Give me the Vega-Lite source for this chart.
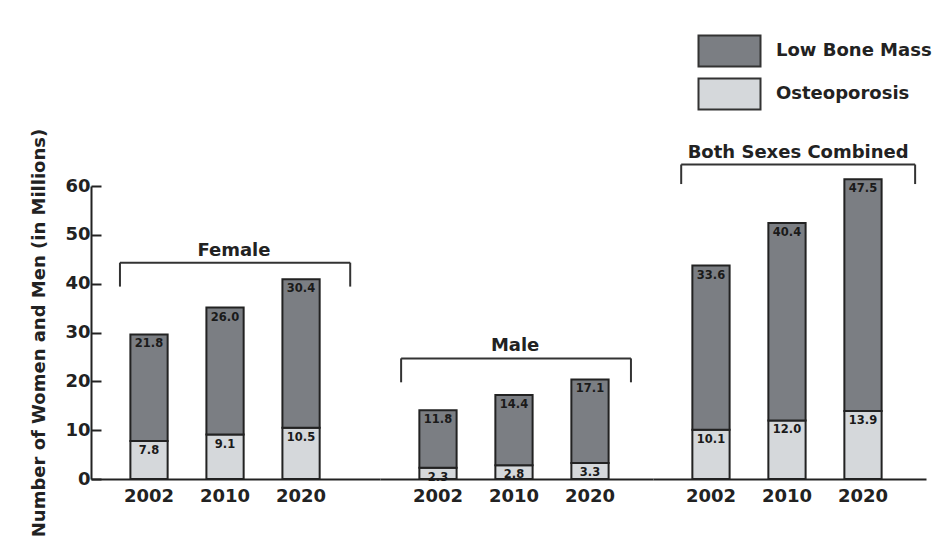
{
  "$schema": "https://vega.github.io/schema/vega-lite/v6.json",
  "background": "white",
  "padding": {"left": 30, "top": 34, "right": 0, "bottom": 0},
  "spacing": 0,
  "bounds": "flush",
  "datasets": {
    "bars": [
      {"group": "Female", "year": "2002", "type": "Osteoporosis", "value": 7.8},
      {"group": "Female", "year": "2002", "type": "Low Bone Mass", "value": 21.8},
      {"group": "Female", "year": "2010", "type": "Osteoporosis", "value": 9.1},
      {"group": "Female", "year": "2010", "type": "Low Bone Mass", "value": 26.0},
      {"group": "Female", "year": "2020", "type": "Osteoporosis", "value": 10.5},
      {"group": "Female", "year": "2020", "type": "Low Bone Mass", "value": 30.4},
      {"group": "Male", "year": "2002", "type": "Osteoporosis", "value": 2.3},
      {"group": "Male", "year": "2002", "type": "Low Bone Mass", "value": 11.8},
      {"group": "Male", "year": "2010", "type": "Osteoporosis", "value": 2.8},
      {"group": "Male", "year": "2010", "type": "Low Bone Mass", "value": 14.4},
      {"group": "Male", "year": "2020", "type": "Osteoporosis", "value": 3.3},
      {"group": "Male", "year": "2020", "type": "Low Bone Mass", "value": 17.1},
      {"group": "Both Sexes Combined", "year": "2002", "type": "Osteoporosis", "value": 10.1},
      {"group": "Both Sexes Combined", "year": "2002", "type": "Low Bone Mass", "value": 33.6},
      {"group": "Both Sexes Combined", "year": "2010", "type": "Osteoporosis", "value": 12.0},
      {"group": "Both Sexes Combined", "year": "2010", "type": "Low Bone Mass", "value": 40.4},
      {"group": "Both Sexes Combined", "year": "2020", "type": "Osteoporosis", "value": 13.9},
      {"group": "Both Sexes Combined", "year": "2020", "type": "Low Bone Mass", "value": 47.5}
    ],
    "brackets": [
      {"group": "Female", "label": "Female", "level": 44.3, "foot": 39.4},
      {"group": "Male", "label": "Male", "level": 24.7, "foot": 19.8},
      {"group": "Both Sexes Combined", "label": "Both Sexes Combined", "level": 64.4, "foot": 60.4}
    ]
  },
  "config": {
    "font": "DejaVu Sans",
    "view": {"stroke": null},
    "axis": {
      "labelFont": "DejaVu Sans",
      "labelFontWeight": "bold",
      "labelFontSize": 18,
      "labelColor": "#222222",
      "titleFont": "DejaVu Sans",
      "titleFontWeight": "bold",
      "titleFontSize": 18,
      "titleColor": "#222222",
      "domainColor": "#222222",
      "domainWidth": 2,
      "tickColor": "#222222",
      "tickWidth": 2,
      "grid": false
    },
    "legend": {
      "orient": "none",
      "legendX": 622,
      "legendY": -151.5,
      "symbolType": "M-2,-1H2V1H-2Z",
      "symbolSize": 961,
      "symbolStrokeColor": "#333333",
      "symbolStrokeWidth": 2,
      "symbolOpacity": 1,
      "labelFont": "DejaVu Sans",
      "labelFontWeight": "bold",
      "labelFontSize": 18,
      "labelColor": "#222222",
      "labelOffset": 30,
      "rowPadding": 4,
      "labelLimit": 400
    }
  },
  "resolve": {"scale": {"y": "shared", "color": "shared", "x": "independent"}, "legend": {"color": "shared"}},
  "hconcat": [
    {
      "width": 289,
      "height": 293,
      "layer": [
        {
          "data": {"name": "bars"},
          "transform": [{"filter": "datum.group === 'Female'"}],
          "mark": {"type": "bar", "stroke": "#222222", "strokeWidth": 2},
          "encoding": {
            "x": {"field": "year", "type": "ordinal", "title": null,
                  "scale": {"paddingInner": 0.51, "paddingOuter": 0.656, "align": 0.395},
                  "axis": {"labelAngle": 0, "ticks": false, "labelPadding": 8}},
            "y": {"field": "value", "type": "quantitative", "stack": "zero",
                  "scale": {"domain": [0, 60], "nice": false},
                  "axis": {"title": "Number of Women and Men (in Millions)", "values": [0, 10, 20, 30, 40, 50, 60],
                           "tickSize": -10, "labelPadding": 11, "titlePadding": 16}},
            "color": {"field": "type", "type": "nominal", "title": null,
                      "scale": {"domain": ["Low Bone Mass", "Osteoporosis"], "range": ["#7b7e83", "#d5d8db"]}},
            "order": {"field": "type", "sort": "descending"}
          }
        },
        {
          "data": {"name": "bars"},
          "transform": [{"filter": "datum.group === 'Female'"}],
          "mark": {"type": "text", "baseline": "middle", "dy": 10, "fontSize": 11.5, "fontWeight": "bold", "color": "#1a1a1a"},
          "encoding": {
            "x": {"field": "year", "type": "ordinal"},
            "y": {"field": "value", "type": "quantitative", "stack": "zero"},
            "order": {"field": "type", "sort": "descending"},
            "detail": {"field": "type"},
            "text": {"field": "value", "type": "quantitative", "format": ".1f"}
          }
        },
        {
          "data": {"name": "brackets"},
          "transform": [{"filter": "datum.group === 'Female'"}],
          "mark": {"type": "rule", "strokeWidth": 2, "color": "#333333"},
          "encoding": {
            "x": {"datum": "2002", "bandPosition": -0.28},
            "x2": {"datum": "2020", "bandPosition": 1.82},
            "y": {"field": "level", "type": "quantitative"}
          }
        },
        {
          "data": {"name": "brackets"},
          "transform": [{"filter": "datum.group === 'Female'"}],
          "mark": {"type": "rule", "strokeWidth": 2, "color": "#333333"},
          "encoding": {
            "x": {"datum": "2002", "bandPosition": -0.28},
            "y": {"field": "level", "type": "quantitative"},
            "y2": {"field": "foot"}
          }
        },
        {
          "data": {"name": "brackets"},
          "transform": [{"filter": "datum.group === 'Female'"}],
          "mark": {"type": "rule", "strokeWidth": 2, "color": "#333333"},
          "encoding": {
            "x": {"datum": "2020", "bandPosition": 1.82},
            "y": {"field": "level", "type": "quantitative"},
            "y2": {"field": "foot"}
          }
        },
        {
          "data": {"name": "brackets"},
          "transform": [{"filter": "datum.group === 'Female'"}],
          "mark": {"type": "text", "baseline": "alphabetic", "dy": -7, "fontSize": 18, "fontWeight": "bold", "color": "#222222"},
          "encoding": {
            "x": {"datum": "2010", "bandPosition": 0.74},
            "y": {"field": "level", "type": "quantitative"},
            "text": {"field": "label"}
          }
        }
      ]
    },
    {
      "width": 273,
      "height": 293,
      "layer": [
        {
          "data": {"name": "bars"},
          "transform": [{"filter": "datum.group === 'Male'"}],
          "mark": {"type": "bar", "stroke": "#222222", "strokeWidth": 2},
          "encoding": {
            "x": {"field": "year", "type": "ordinal", "title": null,
                  "scale": {"paddingInner": 0.51, "paddingOuter": 0.551, "align": 0.47},
                  "axis": {"labelAngle": 0, "ticks": false, "labelPadding": 8}},
            "y": {"field": "value", "type": "quantitative", "stack": "zero", "axis": null},
            "color": {"field": "type", "type": "nominal", "title": null},
            "order": {"field": "type", "sort": "descending"}
          }
        },
        {
          "data": {"name": "bars"},
          "transform": [{"filter": "datum.group === 'Male'"}],
          "mark": {"type": "text", "baseline": "middle", "dy": 10, "fontSize": 11.5, "fontWeight": "bold", "color": "#1a1a1a"},
          "encoding": {
            "x": {"field": "year", "type": "ordinal"},
            "y": {"field": "value", "type": "quantitative", "stack": "zero"},
            "order": {"field": "type", "sort": "descending"},
            "detail": {"field": "type"},
            "text": {"field": "value", "type": "quantitative", "format": ".1f"}
          }
        },
        {
          "data": {"name": "brackets"},
          "transform": [{"filter": "datum.group === 'Male'"}],
          "mark": {"type": "rule", "strokeWidth": 2, "color": "#333333"},
          "encoding": {
            "x": {"datum": "2002", "bandPosition": -0.49},
            "x2": {"datum": "2020", "bandPosition": 1.6},
            "y": {"field": "level", "type": "quantitative"}
          }
        },
        {
          "data": {"name": "brackets"},
          "transform": [{"filter": "datum.group === 'Male'"}],
          "mark": {"type": "rule", "strokeWidth": 2, "color": "#333333"},
          "encoding": {
            "x": {"datum": "2002", "bandPosition": -0.49},
            "y": {"field": "level", "type": "quantitative"},
            "y2": {"field": "foot"}
          }
        },
        {
          "data": {"name": "brackets"},
          "transform": [{"filter": "datum.group === 'Male'"}],
          "mark": {"type": "rule", "strokeWidth": 2, "color": "#333333"},
          "encoding": {
            "x": {"datum": "2020", "bandPosition": 1.6},
            "y": {"field": "level", "type": "quantitative"},
            "y2": {"field": "foot"}
          }
        },
        {
          "data": {"name": "brackets"},
          "transform": [{"filter": "datum.group === 'Male'"}],
          "mark": {"type": "text", "baseline": "alphabetic", "dy": -7, "fontSize": 18, "fontWeight": "bold", "color": "#222222"},
          "encoding": {
            "x": {"datum": "2010", "bandPosition": 0.53},
            "y": {"field": "level", "type": "quantitative"},
            "text": {"field": "label"}
          }
        }
      ]
    },
    {
      "width": 273,
      "height": 293,
      "layer": [
        {
          "data": {"name": "bars"},
          "transform": [{"filter": "datum.group === 'Both Sexes Combined'"}],
          "mark": {"type": "bar", "stroke": "#222222", "strokeWidth": 2},
          "encoding": {
            "x": {"field": "year", "type": "ordinal", "title": null,
                  "scale": {"paddingInner": 0.51, "paddingOuter": 0.551, "align": 0.47},
                  "axis": {"labelAngle": 0, "ticks": false, "labelPadding": 8}},
            "y": {"field": "value", "type": "quantitative", "stack": "zero", "axis": null},
            "color": {"field": "type", "type": "nominal", "title": null},
            "order": {"field": "type", "sort": "descending"}
          }
        },
        {
          "data": {"name": "bars"},
          "transform": [{"filter": "datum.group === 'Both Sexes Combined'"}],
          "mark": {"type": "text", "baseline": "middle", "dy": 10, "fontSize": 11.5, "fontWeight": "bold", "color": "#1a1a1a"},
          "encoding": {
            "x": {"field": "year", "type": "ordinal"},
            "y": {"field": "value", "type": "quantitative", "stack": "zero"},
            "order": {"field": "type", "sort": "descending"},
            "detail": {"field": "type"},
            "text": {"field": "value", "type": "quantitative", "format": ".1f"}
          }
        },
        {
          "data": {"name": "brackets"},
          "transform": [{"filter": "datum.group === 'Both Sexes Combined'"}],
          "mark": {"type": "rule", "strokeWidth": 2, "color": "#333333"},
          "encoding": {
            "x": {"datum": "2002", "bandPosition": -0.3},
            "x2": {"datum": "2020", "bandPosition": 1.9},
            "y": {"field": "level", "type": "quantitative"}
          }
        },
        {
          "data": {"name": "brackets"},
          "transform": [{"filter": "datum.group === 'Both Sexes Combined'"}],
          "mark": {"type": "rule", "strokeWidth": 2, "color": "#333333"},
          "encoding": {
            "x": {"datum": "2002", "bandPosition": -0.3},
            "y": {"field": "level", "type": "quantitative"},
            "y2": {"field": "foot"}
          }
        },
        {
          "data": {"name": "brackets"},
          "transform": [{"filter": "datum.group === 'Both Sexes Combined'"}],
          "mark": {"type": "rule", "strokeWidth": 2, "color": "#333333"},
          "encoding": {
            "x": {"datum": "2020", "bandPosition": 1.9},
            "y": {"field": "level", "type": "quantitative"},
            "y2": {"field": "foot"}
          }
        },
        {
          "data": {"name": "brackets"},
          "transform": [{"filter": "datum.group === 'Both Sexes Combined'"}],
          "mark": {"type": "text", "baseline": "alphabetic", "dy": -7, "fontSize": 18, "fontWeight": "bold", "color": "#222222"},
          "encoding": {
            "x": {"datum": "2010", "bandPosition": 0.8},
            "y": {"field": "level", "type": "quantitative"},
            "text": {"field": "label"}
          }
        }
      ]
    }
  ]
}
